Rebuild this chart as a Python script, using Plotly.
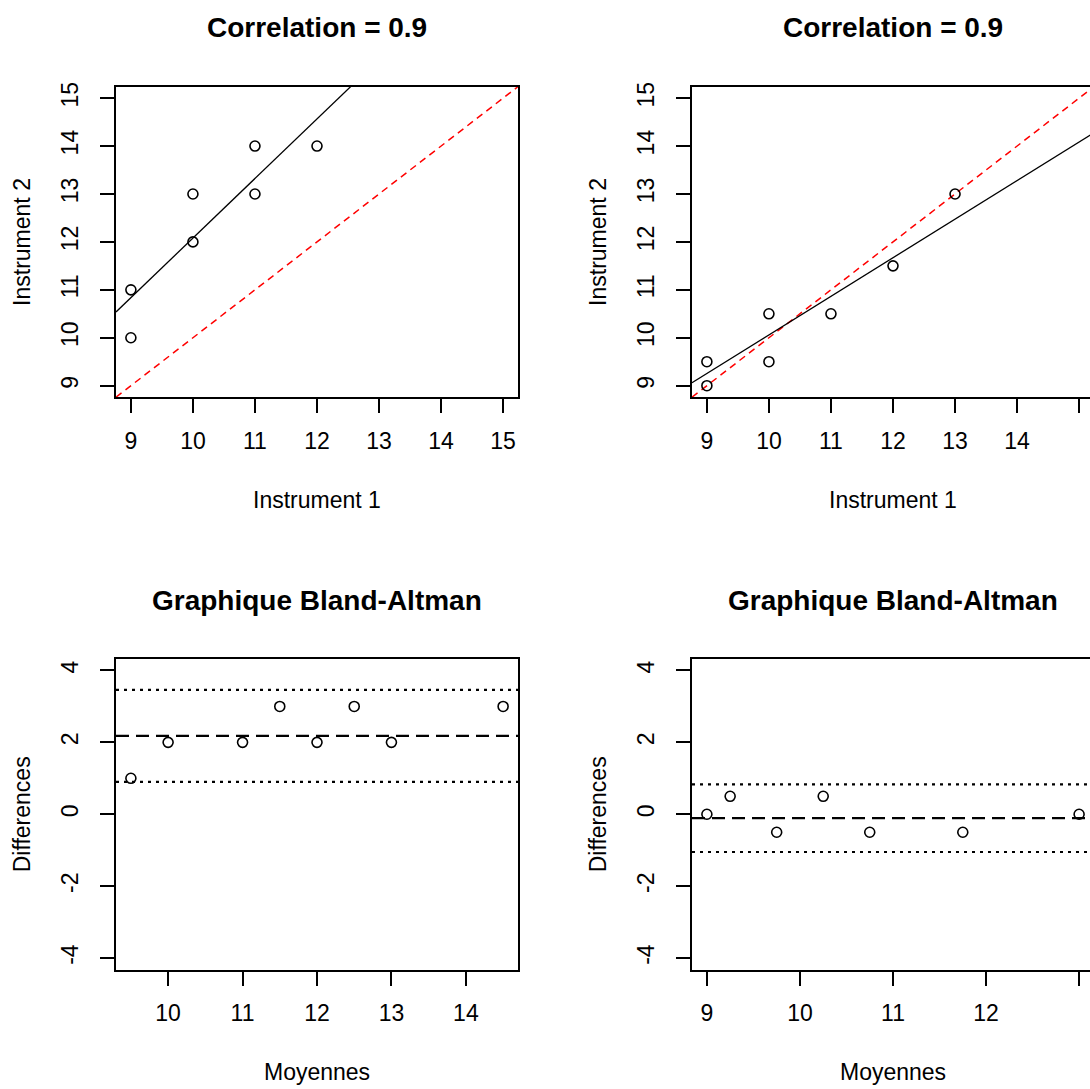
import plotly.graph_objects as go

# ---------------- data ----------------
inst1_a = [9, 9, 10, 10, 11, 11, 12]
inst2_a = [10, 11, 12, 13, 13, 14, 14]
inst1_b = [9, 9, 10, 10, 11, 12, 13]
inst2_b = [9, 9.5, 9.5, 10.5, 10.5, 11.5, 13]

reg_intercepts = [-0.35, 2.01]
reg_slopes = [1.243, 0.805]

ba_mean_a = [9.5, 10, 11, 11.5, 12, 12.5, 13, 14.5]
ba_diff_a = [1, 2, 2, 3, 2, 3, 2, 3]
ba_mean_b = [9, 9.25, 9.75, 10.25, 10.75, 11.75, 13]
ba_diff_b = [0, 0.5, -0.5, 0.5, -0.5, -0.5, 0]

ba_bias = [2.18, -0.11]
ba_upper = [3.46, 0.83]
ba_lower = [0.90, -1.05]

title_top = "Correlation = 0.9"
title_bottom = "Graphique Bland-Altman"
xlab_top, ylab_top = "Instrument 1", "Instrument 2"
xlab_bottom, ylab_bottom = "Moyennes", "Differences"

ticks_scatter = [9, 10, 11, 12, 13, 14, 15]
ticks_ba_x_a = [10, 11, 12, 13, 14]
ticks_ba_x_b = [9, 10, 11, 12, 13]
ticks_ba_y = [-4, -2, 0, 2, 4]

# ---------------- layout geometry (pixels) ----------------
W, H = 1090, 1089
FONT = "Liberation Sans, Arial, sans-serif"
BOX_W = 402
cols = [116, 692]          # left edge of plot boxes
rows = [(82, 394), (657, 969)]  # top, bottom of plot boxes


def px(x):
    return x / W


def py(y):
    return 1 - y / H


def xdom(c):
    x0 = cols[c]
    x1 = min(x0 + BOX_W, W)
    return [px(x0), px(x1)]


def visible_range(lo, hi, c):
    # right column is cropped at the figure edge
    x0 = cols[c]
    vis = min(x0 + BOX_W, W) - x0
    return [lo, lo + (hi - lo) * vis / BOX_W]


fig = go.Figure()

marker = dict(symbol="circle-open", size=10, color="black", line=dict(width=1.6))

panels = [
    # (col, row, xrange_full, yrange, xticks, yticks)
    (0, 0, [8.76, 15.24], [8.76, 15.24], ticks_scatter, ticks_scatter),
    (1, 0, [8.76, 15.24], [8.76, 15.24], ticks_scatter, ticks_scatter),
    (0, 1, [9.3, 14.7], [-4.32, 4.32], ticks_ba_x_a, ticks_ba_y),
    (1, 1, [8.84, 13.16], [-4.32, 4.32], ticks_ba_x_b, ticks_ba_y),
]

annotations = []
shapes = []
for i, (c, r, xr, yr, xt, yt) in enumerate(panels):
    n = "" if i == 0 else str(i + 1)
    top, bot = rows[r]
    xrng = visible_range(xr[0], xr[1], c)
    fig.layout["xaxis" + n] = dict(
        domain=xdom(c), range=xrng, anchor="y" + n,
        tickvals=xt, ticktext=[str(v) for v in xt],
        showline=True, linecolor="black", linewidth=2,
        mirror=True, ticks="outside", ticklen=14, tickwidth=2, tickcolor="black",
        showgrid=False, zeroline=False, ticklabelstandoff=8,
        tickfont=dict(family=FONT, size=23, color="black"), fixedrange=True,
    )
    fig.layout["yaxis" + n] = dict(
        domain=[py(bot), py(top)], range=yr, anchor="x" + n,
        tickvals=yt, ticktext=[str(v) for v in yt],
        showline=True, linecolor="black", linewidth=2,
        mirror=(c == 0), ticks="outside", ticklen=14, tickwidth=2, tickcolor="black",
        showgrid=False, zeroline=False, tickangle=-90, ticklabelstandoff=13,
        tickfont=dict(family=FONT, size=23, color="black"), fixedrange=True,
    )
    cx = cols[c] + BOX_W / 2
    ttl = title_top if r == 0 else title_bottom
    xl = xlab_top if r == 0 else xlab_bottom
    yl = ylab_top if r == 0 else ylab_bottom
    annotations.append(dict(text="<b>%s</b>" % ttl, x=px(cx), y=py(top - 59),
                            xref="paper", yref="paper", showarrow=False,
                            xanchor="center", yanchor="middle",
                            font=dict(family=FONT, size=28, color="black")))
    annotations.append(dict(text=xl, x=px(cx), y=py(bot + 103),
                            xref="paper", yref="paper", showarrow=False,
                            xanchor="center", yanchor="middle",
                            font=dict(family=FONT, size=23, color="black")))
    annotations.append(dict(text=yl, x=px(cols[c] - 94), y=py((top + bot) / 2),
                            xref="paper", yref="paper", showarrow=False, textangle=-90,
                            xanchor="center", yanchor="middle",
                            font=dict(family=FONT, size=23, color="black")))

# ---- scatter panels ----
for k, (xs, ys) in enumerate([(inst1_a, inst2_a), (inst1_b, inst2_b)]):
    n = "" if k == 0 else str(k + 1)
    xr = panels[k][2]
    # identity line (red dashed)
    fig.add_trace(go.Scatter(x=xr, y=xr, mode="lines", xaxis="x" + n, yaxis="y" + n,
                             line=dict(color="red", width=1.5, dash="7px,5px"),
                             showlegend=False, hoverinfo="skip"))
    # regression line
    fig.add_trace(go.Scatter(x=xr, y=[reg_intercepts[k] + reg_slopes[k] * v for v in xr],
                             mode="lines", xaxis="x" + n, yaxis="y" + n,
                             line=dict(color="black", width=1.3),
                             showlegend=False, hoverinfo="skip"))
    fig.add_trace(go.Scatter(x=xs, y=ys, mode="markers", xaxis="x" + n, yaxis="y" + n,
                             marker=marker, showlegend=False))

# ---- Bland-Altman panels ----
for k, (ms, ds) in enumerate([(ba_mean_a, ba_diff_a), (ba_mean_b, ba_diff_b)]):
    n = str(k + 3)
    for val, dash, w in [(ba_bias[k], "13px,7px", 2.2),
                         (ba_upper[k], "3px,5px", 2.2),
                         (ba_lower[k], "3px,5px", 2.2)]:
        shapes.append(dict(type="line", xref="x%s domain" % n, yref="y" + n,
                           x0=0, x1=1, y0=val, y1=val,
                           line=dict(color="black", width=w, dash=dash)))
    fig.add_trace(go.Scatter(x=ms, y=ds, mode="markers", xaxis="x" + n, yaxis="y" + n,
                             marker=marker, showlegend=False))

fig.update_layout(
    width=W, height=H, autosize=False,
    margin=dict(l=0, r=0, t=0, b=0, pad=0),
    paper_bgcolor="white", plot_bgcolor="white",
    annotations=annotations, shapes=shapes,
    showlegend=False,
    font=dict(family=FONT, color="black"),
)

fig.write_html(
    "out.html",
    config={"displayModeBar": False},
    post_script="document.body.style.margin='0px';document.body.style.overflow='hidden';",
)
